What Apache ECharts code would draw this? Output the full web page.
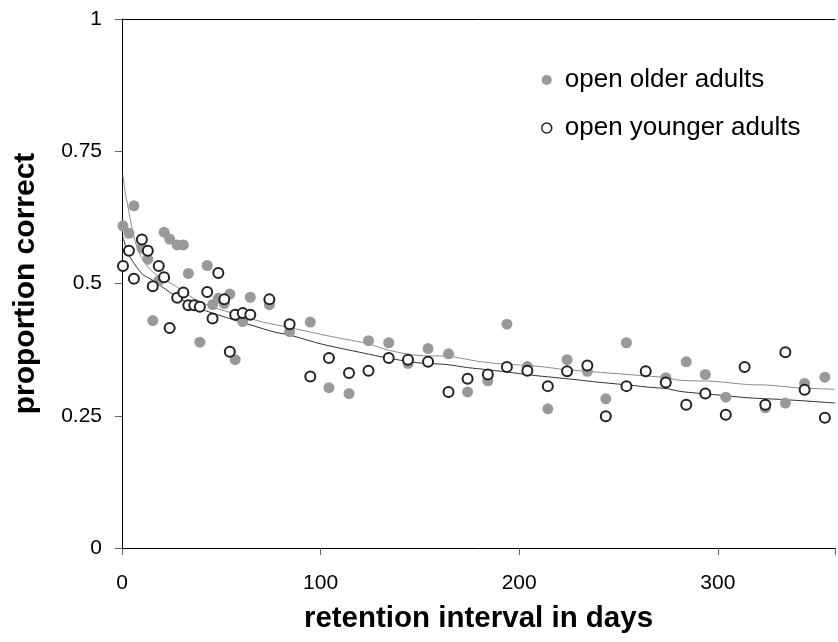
<!DOCTYPE html>
<html>
<head>
<meta charset="utf-8">
<style>
  html, body { margin: 0; padding: 0; background: #fff; }
  #chart { width: 838px; height: 642px; }
</style>
<script src="https://cdn.jsdelivr.net/npm/echarts@6/dist/echarts.min.js"></script>
</head>
<body>
<div id="chart"></div>
<script>
// Retention interval (days) at which each group was tested
const days = [0.5, 3.5, 6, 10, 13, 15.5, 18.5, 21.2, 24, 27.8, 30.9, 33.4, 36.4, 39.2, 42.9, 45.6,
  48.5, 51.5, 54.3, 57, 60.8, 64.6, 74.2, 84.4, 94.8, 104.2, 114.3, 124.1, 134.3, 144, 154.1,
  164.4, 174, 184.2, 193.8, 204.1, 214.4, 224.1, 234.3, 243.6, 254, 263.7, 273.8, 284.1, 293.7,
  304, 313.5, 323.9, 334, 343.7, 353.9];

// Proportion correct, older adults (null = no observation)
const olderValues = [0.609, 0.595, 0.647, 0.567, 0.546, 0.430, 0.505, 0.597, 0.584, 0.573, 0.573,
  0.519, null, 0.389, 0.534, 0.460, 0.472, 0.462, 0.480, 0.356, 0.428, 0.474, 0.460, 0.409, 0.427,
  0.303, 0.292, 0.392, 0.388, 0.349, 0.377, 0.367, 0.295, 0.316, 0.423, 0.343, 0.263, 0.356,
  0.334, 0.282, 0.388, 0.333, 0.322, 0.352, 0.328, 0.285, null, 0.265, 0.274, 0.311, 0.323];

// Proportion correct, younger adults
const youngerValues = [0.533, 0.562, 0.509, 0.583, 0.562, 0.495, 0.533, 0.512, 0.416, 0.473, 0.483,
  0.459, 0.459, 0.456, 0.484, 0.434, 0.520, 0.470, 0.371, 0.441, 0.444, 0.441, 0.470, 0.423, 0.324,
  0.359, 0.331, 0.335, 0.359, 0.356, 0.352, 0.295, 0.320, 0.328, 0.342, 0.335, 0.306, 0.334,
  0.345, 0.249, 0.306, 0.334, 0.313, 0.271, 0.292, 0.252, 0.342, 0.271, 0.370, 0.299, 0.246];

// Fitted retention curves
const olderFitDays = [0.5, 1.5, 3, 5, 7, 10, 14, 19, 27, 36, 44, 52, 61, 70, 84, 100, 112, 124,
  134, 149, 160, 166, 179, 191, 208, 224, 241, 258, 274, 281, 298, 315, 325, 340, 359];
const olderFit = [0.705, 0.675, 0.645, 0.605, 0.575, 0.548, 0.527, 0.512, 0.495, 0.472, 0.458,
  0.448, 0.438, 0.428, 0.417, 0.404, 0.395, 0.386, 0.374, 0.364, 0.363, 0.362, 0.353, 0.348,
  0.344, 0.337, 0.332, 0.327, 0.322, 0.317, 0.315, 0.309, 0.308, 0.303, 0.300];

const youngerFitDays = [0.5, 2, 4, 7, 10.5, 15.5, 22, 27, 36, 44, 61, 77, 84, 101, 121, 134, 149,
  163, 174, 179, 191, 208, 224, 241, 258, 265, 275, 281, 298, 315, 331, 348, 359];
const youngerFit = [0.588, 0.568, 0.55, 0.533, 0.517, 0.506, 0.489, 0.476, 0.458, 0.446, 0.426,
  0.408, 0.403, 0.385, 0.369, 0.359, 0.35, 0.347, 0.341, 0.339, 0.334, 0.326, 0.32, 0.313, 0.307,
  0.304, 0.301, 0.296, 0.29, 0.284, 0.281, 0.277, 0.274];

const xTicks = [0, 100, 200, 300];
const yTicks = [0, 0.25, 0.5, 0.75, 1];

const pairs = (xs, ys) => xs.map((x, i) => [x, ys[i]]).filter(p => p[1] !== null);

const FONT = '"Liberation Sans", Arial, Helvetica, sans-serif';
const GREY = '#999999';
const DARK = '#222222';

const chart = echarts.init(document.getElementById('chart'), null, { renderer: 'canvas' });

chart.setOption({
  animation: false,
  backgroundColor: '#ffffff',
  textStyle: { fontFamily: FONT },
  grid: { left: 122, right: 0, top: 19, bottom: 94, containLabel: false },
  legend: {
    orient: 'vertical',
    left: 536,
    top: 62,
    itemWidth: 26,
    itemHeight: 10,
    itemGap: 22,
    textStyle: { fontFamily: FONT, fontSize: 26, color: '#000' },
    data: [
      { name: 'open older adults', icon: 'circle' },
      { name: 'open younger adults', icon: 'circle',
        itemStyle: { color: '#ffffff', borderColor: DARK, borderWidth: 1.5 } }
    ]
  },
  xAxis: [{
    type: 'value',
    min: 0,
    max: 359,
    interval: 100,
    name: 'retention interval in days',
    nameLocation: 'middle',
    nameGap: 56,
    nameTextStyle: { fontFamily: FONT, fontSize: 29.5, fontWeight: 'bold', color: '#000' },
    axisLine: { show: true, onZero: false, lineStyle: { color: '#000', width: 1 } },
    axisTick: { show: true, length: 7, lineStyle: { color: '#666' } },
    axisLabel: {
      fontSize: 21, color: '#000', margin: 25,
      formatter: v => (xTicks.includes(v) ? String(v) : '')
    },
    splitLine: { show: false }
  }, {
    type: 'value',
    position: 'top',
    min: 0,
    max: 359,
    axisLine: { show: true, onZero: false, lineStyle: { color: '#000', width: 1 } },
    axisTick: { show: false },
    axisLabel: { show: false },
    splitLine: { show: false }
  }],
  yAxis: {
    type: 'value',
    min: 0,
    max: 1,
    interval: 0.25,
    name: 'proportion correct',
    nameLocation: 'middle',
    nameRotate: 90,
    nameGap: 81,
    nameTextStyle: { fontFamily: FONT, fontSize: 30, fontWeight: 'bold', color: '#000' },
    axisLine: { show: true, onZero: false, lineStyle: { color: '#000', width: 1 } },
    axisTick: { show: true, length: 7, lineStyle: { color: '#666' } },
    axisLabel: {
      fontSize: 21, color: '#000', margin: 20,
      formatter: v => (yTicks.includes(v) ? String(v) : '')
    },
    splitLine: { show: false }
  },
  series: [
    {
      name: 'older fit',
      type: 'line',
      data: pairs(olderFitDays, olderFit),
      showSymbol: false,
      smooth: 0.3,
      lineStyle: { color: '#8c8c8c', width: 1 },
      z: 1,
      silent: true
    },
    {
      name: 'younger fit',
      type: 'line',
      data: pairs(youngerFitDays, youngerFit),
      showSymbol: false,
      smooth: 0.3,
      lineStyle: { color: '#333333', width: 1 },
      z: 1,
      silent: true
    },
    {
      name: 'open older adults',
      type: 'scatter',
      data: pairs(days, olderValues),
      symbol: 'circle',
      symbolSize: 11,
      itemStyle: { color: GREY, opacity: 1 },
      z: 2
    },
    {
      name: 'open younger adults',
      type: 'scatter',
      data: pairs(days, youngerValues),
      symbol: 'circle',
      symbolSize: 10,
      itemStyle: { color: '#ffffff', borderColor: DARK, borderWidth: 2, opacity: 1 },
      z: 3
    }
  ]
});
</script>
</body>
</html>
